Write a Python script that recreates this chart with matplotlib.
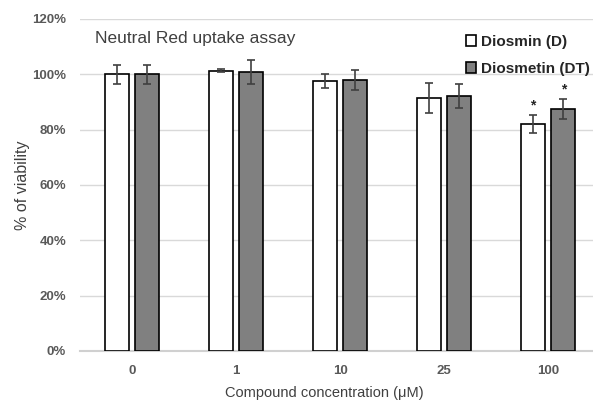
import matplotlib
matplotlib.use("Agg")
import matplotlib.pyplot as plt
import numpy as np

plt.rcParams['font.family'] = ['Liberation Sans', 'DejaVu Sans']

# data
concentrations = ['0', '1', '10', '25', '100']
diosmin = [100.0, 101.3, 97.6, 91.5, 82.0]
diosmin_err = [3.4, 0.5, 2.6, 5.5, 3.3]
diosmetin = [100.0, 100.8, 97.8, 92.2, 87.3]
diosmetin_err = [3.4, 4.2, 3.6, 4.4, 3.6]
significant_d = [False, False, False, False, True]
significant_dt = [False, False, False, False, True]

fig = plt.figure(figsize=(5.93, 4.01), dpi=100)
ax = fig.add_axes([0.135, 0.1247, 0.865, 0.828])

x = np.arange(len(concentrations))
w = 0.23
off = 0.146
ecol = '#404040'

ax.bar(x - off, diosmin, w, color='white', edgecolor='black', linewidth=1.2,
       yerr=diosmin_err, error_kw=dict(ecolor=ecol, elinewidth=1.2, capsize=3, capthick=1.2),
       label='Diosmin (D)', zorder=3)
ax.bar(x + off, diosmetin, w, color='#808080', edgecolor='black', linewidth=1.2,
       yerr=diosmetin_err, error_kw=dict(ecolor=ecol, elinewidth=1.2, capsize=3, capthick=1.2),
       label='Diosmetin (DT)', zorder=3)

# significance stars
for i in range(len(concentrations)):
    if significant_d[i]:
        ax.text(x[i] - off, diosmin[i] + diosmin_err[i] + 1.0, '*', ha='center', va='bottom',
                fontsize=10, fontweight='bold', color='#262626')
    if significant_dt[i]:
        ax.text(x[i] + off, diosmetin[i] + diosmetin_err[i] + 1.0, '*', ha='center', va='bottom',
                fontsize=10, fontweight='bold', color='#262626')

ax.set_ylim(0, 120)
ax.set_xlim(-0.5, 4.43)
ax.set_yticks(range(0, 121, 20))
ax.set_yticklabels([f'{v}%' for v in range(0, 121, 20)])
ax.set_xticks(x)
ax.set_xticklabels(concentrations)
ax.tick_params(axis='both', length=0, labelsize=9.5, labelcolor='#595959')
ax.tick_params(axis='y', pad=10)
ax.tick_params(axis='x', pad=10)
for lab in ax.get_xticklabels() + ax.get_yticklabels():
    lab.set_fontweight('bold')

ax.grid(axis='y', color='#d9d9d9', linewidth=1, zorder=0)
for s in ['top', 'right', 'left']:
    ax.spines[s].set_visible(False)
ax.spines['bottom'].set_color('#d0d0d0')
ax.spines['bottom'].set_linewidth(1.5)

# axis titles placed where the reference has them
ax.set_ylabel('% of viability', fontsize=11.5, color='#404040', va='center')
ax.yaxis.set_label_coords((22 - 80) / 513, 0.5)
ax.set_xlabel('Compound concentration (\u03bcM)', fontsize=10.5, color='#404040', va='center')
ax.xaxis.set_label_coords((324 - 80) / 513, -(393 - 351) / 332)

fig.text(95 / 593, 1 - 39 / 401, 'Neutral Red uptake assay', fontsize=12.5, color='#404040',
         va='center', ha='left')

leg = ax.legend(loc='upper right', bbox_to_anchor=(596 / 593, 1 - 29 / 401),
                bbox_transform=fig.transFigure, frameon=False, fontsize=11,
                handlelength=0.7, handleheight=0.7, handletextpad=0.3, labelspacing=0.85,
                borderaxespad=0)
for t in leg.get_texts():
    t.set_fontweight('bold')
    t.set_color('#262626')

fig.savefig('out.png', dpi=100)
